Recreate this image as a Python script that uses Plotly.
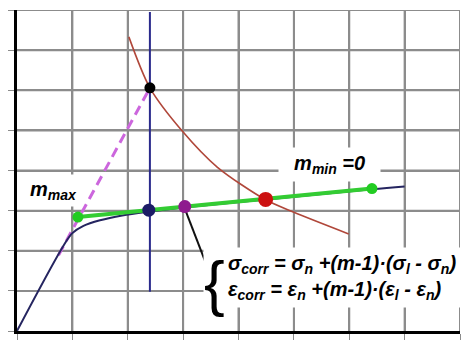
import plotly.graph_objects as go

# Curve data (strain, stress) in grid units
curve_x = [0.0, 0.85, 1.0, 1.2, 1.5, 1.9, 2.4, 3.0, 4.5, 6.4, 7.0]
curve_y = [0.0, 2.15, 2.44, 2.62, 2.76, 2.88, 2.98, 3.08, 3.28, 3.53, 3.6]

neuber_x = [2.02, 2.4, 2.98, 3.62, 4.49, 5.0, 5.99]
neuber_y = [7.33, 6.06, 4.99, 4.08, 3.27, 2.96, 2.42]

elastic_x = [0.75, 2.4]
elastic_y = [1.89, 6.06]

green_x = [1.1, 6.41]
green_y = [2.84, 3.55]

vline_x = [2.4, 2.4]
vline_y = [0.98, 7.95]

leader_x = [3.03, 3.48]
leader_y = [3.05, 1.44]

dot_black = (2.4, 6.06)
dot_navy = (2.38, 3.01)
dot_purple = (3.03, 3.1)
dot_red = (4.49, 3.28)
dot_green = ([1.1, 6.41], [2.84, 3.55])

ticks = [0, 1, 2, 3, 4, 5, 6, 7, 8]

fig = go.Figure()

# grid drawn as a trace
gx, gy = [], []
for t in ticks[1:]:
    gx += [t, t, None, 0, 8, None]
    gy += [0, 8, None, t, t, None]
fig.add_trace(go.Scatter(x=gx, y=gy, mode="lines", line=dict(color="#8c8c8c", width=2)))

fig.add_trace(go.Scatter(x=vline_x, y=vline_y, mode="lines",
                         line=dict(color="#2a2a8c", width=2)))
fig.add_trace(go.Scatter(x=elastic_x, y=elastic_y, mode="lines",
                         line=dict(color="#cc66dd", width=3, dash="10px,6px")))
fig.add_trace(go.Scatter(x=neuber_x, y=neuber_y, mode="lines",
                         line=dict(color="#b0473a", width=1.6, shape="spline", smoothing=0.8)))
fig.add_trace(go.Scatter(x=curve_x, y=curve_y, mode="lines",
                         line=dict(color="#252560", width=2, shape="spline")))
fig.add_trace(go.Scatter(x=green_x, y=green_y, mode="lines",
                         line=dict(color="#33cc33", width=4)))
fig.add_trace(go.Scatter(x=leader_x, y=leader_y, mode="lines",
                         line=dict(color="#111111", width=2)))
fig.add_trace(go.Scatter(x=dot_green[0], y=dot_green[1], mode="markers",
                         marker=dict(color="#22cc22", size=11)))
fig.add_trace(go.Scatter(x=[dot_black[0]], y=[dot_black[1]], mode="markers",
                         marker=dict(color="#000000", size=11)))
fig.add_trace(go.Scatter(x=[dot_navy[0]], y=[dot_navy[1]], mode="markers",
                         marker=dict(color="#1c1c66", size=13)))
fig.add_trace(go.Scatter(x=[dot_purple[0]], y=[dot_purple[1]], mode="markers",
                         marker=dict(color="#8e1a8e", size=13)))
fig.add_trace(go.Scatter(x=[dot_red[0]], y=[dot_red[1]], mode="markers",
                         marker=dict(color="#cc1111", size=15)))

font = dict(family="Liberation Sans", size=20, color="black")
fig.add_annotation(x=3.72, y=1.33, xanchor="left", align="left",
                   text="<b><i>σ<sub>corr</sub> = σ<sub>n</sub> +(m-1)·(σ<sub>l</sub> - σ<sub>n</sub>)&nbsp;<br>"
                        "ε<sub>corr</sub> = ε<sub>n</sub> +(m-1)·(ε<sub>l</sub> - ε<sub>n</sub>)</i></b>",
                   showarrow=False, font=font, bgcolor="white", borderpad=4)
fig.add_annotation(x=3.56, y=1.22, text="{", showarrow=False, bgcolor="white", borderpad=0,
                   font=dict(family="Liberation Sans", size=62, color="black"))
fig.add_annotation(x=0.66, y=3.5, text="<b><i>m<sub>max</sub></i></b>", showarrow=False,
                   bgcolor="white", borderpad=3,
                   font=dict(family="Liberation Sans", size=20, color="black"))
fig.add_annotation(x=5.65, y=4.16, text="<b><i>&nbsp;&nbsp;m<sub>min</sub> =0&nbsp;&nbsp;</i></b>", showarrow=False,
                   bgcolor="white", borderpad=4,
                   font=dict(family="Liberation Sans", size=20, color="black"))

axis_common = dict(range=[0, 8], tickvals=ticks, showticklabels=False,
                   showgrid=True, gridcolor="#8c8c8c", gridwidth=2,
                   zeroline=False, showline=True, linecolor="black", linewidth=3,
                   ticks="outside", ticklen=6, tickcolor="#8c8c8c")
fig.update_xaxes(**axis_common)
fig.update_yaxes(**axis_common)

fig.update_layout(width=467, height=342, showlegend=False,
                  margin=dict(l=17, r=7, t=10, b=5),
                  plot_bgcolor="white")

fig.write_html("out.html")
